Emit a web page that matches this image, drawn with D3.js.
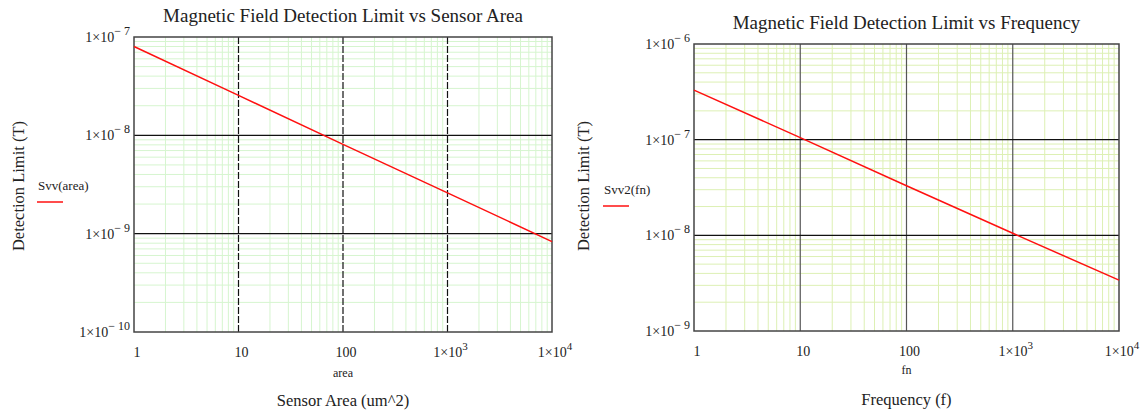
<!DOCTYPE html>
<html lang="en">
  <head>
    <meta charset="UTF-8" />
    <title>Magnetic Field Detection Limit</title>
    <style>
      body { margin: 0; background: #fff; }
      svg text { font-family: "Liberation Serif", "DejaVu Serif", serif; fill: #222; }
    </style>
  </head>
  <body>
    <div id="chart"></div>
    <script src="https://d3js.org/d3.v7.min.js"></script>
    <script>
      // data
      const areaVals = [1, 10, 100, 1000, 10000];
      const svvArea = [8.0e-8, 2.55e-8, 8.1e-9, 2.6e-9, 8.3e-10];
      const freqVals = [1, 10, 100, 1000, 10000];
      const svv2Freq = [3.3e-7, 1.05e-7, 3.3e-8, 1.05e-8, 3.4e-9];
      const xTickVals = [1, 10, 100, 1000, 10000];
      const xTickLabels = [["1", ""], ["10", ""], ["100", ""], ["1\u00d710", "3"], ["1\u00d710", "4"]];

      const svg = d3.select("#chart").append("svg")
        .attr("width", 1147).attr("height", 412);

      const drawPlot = (cfg) => {
        const g = svg.append("g");
        const x = d3.scaleLog().domain([1, 1e4]).range([cfg.left, cfg.right]);
        const y = d3.scaleLog().domain(cfg.yDomain).range([cfg.bottom, cfg.top]);

        // minor grid
        const minorX = [];
        for (let d = 1; d < 1e4; d *= 10) for (let k = 2; k <= 9; k++) minorX.push(d * k);
        const minorY = [];
        for (let d = cfg.yDomain[0]; d < cfg.yDomain[1] * 0.99; d *= 10) for (let k = 2; k <= 9; k++) minorY.push(d * k);

        g.selectAll(".mx").data(minorX).join("line")
          .attr("x1", d => x(d)).attr("x2", d => x(d))
          .attr("y1", cfg.top).attr("y2", cfg.bottom)
          .attr("stroke", cfg.gridColor).attr("stroke-width", 1);
        g.selectAll(".my").data(minorY).join("line")
          .attr("y1", d => y(d)).attr("y2", d => y(d))
          .attr("x1", cfg.left).attr("x2", cfg.right)
          .attr("stroke", cfg.gridColor).attr("stroke-width", 1);

        // major grid
        g.selectAll(".Mx").data(xTickVals.slice(1, -1)).join("line")
          .attr("x1", d => x(d)).attr("x2", d => x(d))
          .attr("y1", cfg.top).attr("y2", cfg.bottom)
          .attr("stroke", cfg.majorXColor).attr("stroke-width", 1.2)
          .attr("stroke-dasharray", cfg.majorXDash);
        g.selectAll(".My").data(cfg.yTicks.slice(1, -1)).join("line")
          .attr("y1", d => y(d)).attr("y2", d => y(d))
          .attr("x1", cfg.left).attr("x2", cfg.right)
          .attr("stroke", "#111").attr("stroke-width", 1.2);

        // frame
        g.append("rect")
          .attr("x", cfg.left).attr("y", cfg.top)
          .attr("width", cfg.right - cfg.left).attr("height", cfg.bottom - cfg.top)
          .attr("fill", "none").attr("stroke", "#444").attr("stroke-width", 1.5);

        // data line
        const line = d3.line().x(d => x(d[0])).y(d => y(d[1]));
        g.append("path")
          .datum(cfg.xs.map((v, i) => [v, cfg.ys[i]]))
          .attr("d", line)
          .attr("fill", "none").attr("stroke", "#ff1010").attr("stroke-width", 1.5);

        // y tick labels
        const yl = g.selectAll(".yl").data(cfg.yTicks).join("text")
          .attr("x", cfg.left - 4).attr("y", d => y(d) + 5)
          .attr("text-anchor", "end").attr("font-size", 14);
        yl.append("tspan").text("1\u00d710");
        yl.append("tspan").attr("dy", -7).attr("font-size", 12).text(d => "\u2212 " + (-Math.round(Math.log10(d))));

        // x tick labels
        const xl = g.selectAll(".xl").data(xTickVals).join("text")
          .attr("x", d => x(d) + 3).attr("y", cfg.bottom + 25)
          .attr("text-anchor", "middle").attr("font-size", 14);
        xl.append("tspan").text((d, i) => xTickLabels[i][0]);
        xl.append("tspan").attr("dy", -7).attr("font-size", 11).text((d, i) => xTickLabels[i][1]);

        // titles
        const cx = (cfg.left + cfg.right) / 2;
        g.append("text").attr("x", cx).attr("y", cfg.titleY)
          .attr("text-anchor", "middle").attr("font-size", 19).text(cfg.title);
        g.append("text").attr("x", cx).attr("y", cfg.varY)
          .attr("text-anchor", "middle").attr("font-size", 12).text(cfg.varName);
        g.append("text").attr("x", cx).attr("y", cfg.xTitleY)
          .attr("text-anchor", "middle").attr("font-size", 16.5).text(cfg.xTitle);
        g.append("text")
          .attr("transform", `translate(${cfg.yTitleX}, ${cfg.yTitleMid}) rotate(-90)`)
          .attr("text-anchor", "middle").attr("font-size", 16.5).text("Detection Limit (T)");

        // legend
        g.append("text").attr("x", cfg.legX).attr("y", cfg.legY)
          .attr("font-size", 13).text(cfg.legName);
        g.append("line")
          .attr("x1", cfg.legX - 1).attr("x2", cfg.legX + 25)
          .attr("y1", cfg.legY + 12).attr("y2", cfg.legY + 12)
          .attr("stroke", "#ff1010").attr("stroke-width", 1.5);
      };

      drawPlot({
        left: 134, right: 552, top: 37, bottom: 332,
        yDomain: [1e-10, 1e-7], yTicks: [1e-10, 1e-9, 1e-8, 1e-7],
        gridColor: "#d6f5cf", majorXColor: "#111", majorXDash: "7,2",
        xs: areaVals, ys: svvArea,
        title: "Magnetic Field Detection Limit vs Sensor Area", titleY: 22,
        varName: "area", varY: 377,
        xTitle: "Sensor Area (um^2)", xTitleY: 406,
        yTitleX: 24, yTitleMid: 186,
        legName: "Svv(area)", legX: 38, legY: 190
      });

      drawPlot({
        left: 694, right: 1119, top: 44, bottom: 331,
        yDomain: [1e-9, 1e-6], yTicks: [1e-9, 1e-8, 1e-7, 1e-6],
        gridColor: "#ddf0b4", majorXColor: "#555", majorXDash: null,
        xs: freqVals, ys: svv2Freq,
        title: "Magnetic Field Detection Limit vs Frequency", titleY: 29,
        varName: "fn", varY: 374,
        xTitle: "Frequency (f)", xTitleY: 405,
        yTitleX: 589, yTitleMid: 186,
        legName: "Svv2(fn)", legX: 604, legY: 194
      });
    </script>
  </body>
</html>
